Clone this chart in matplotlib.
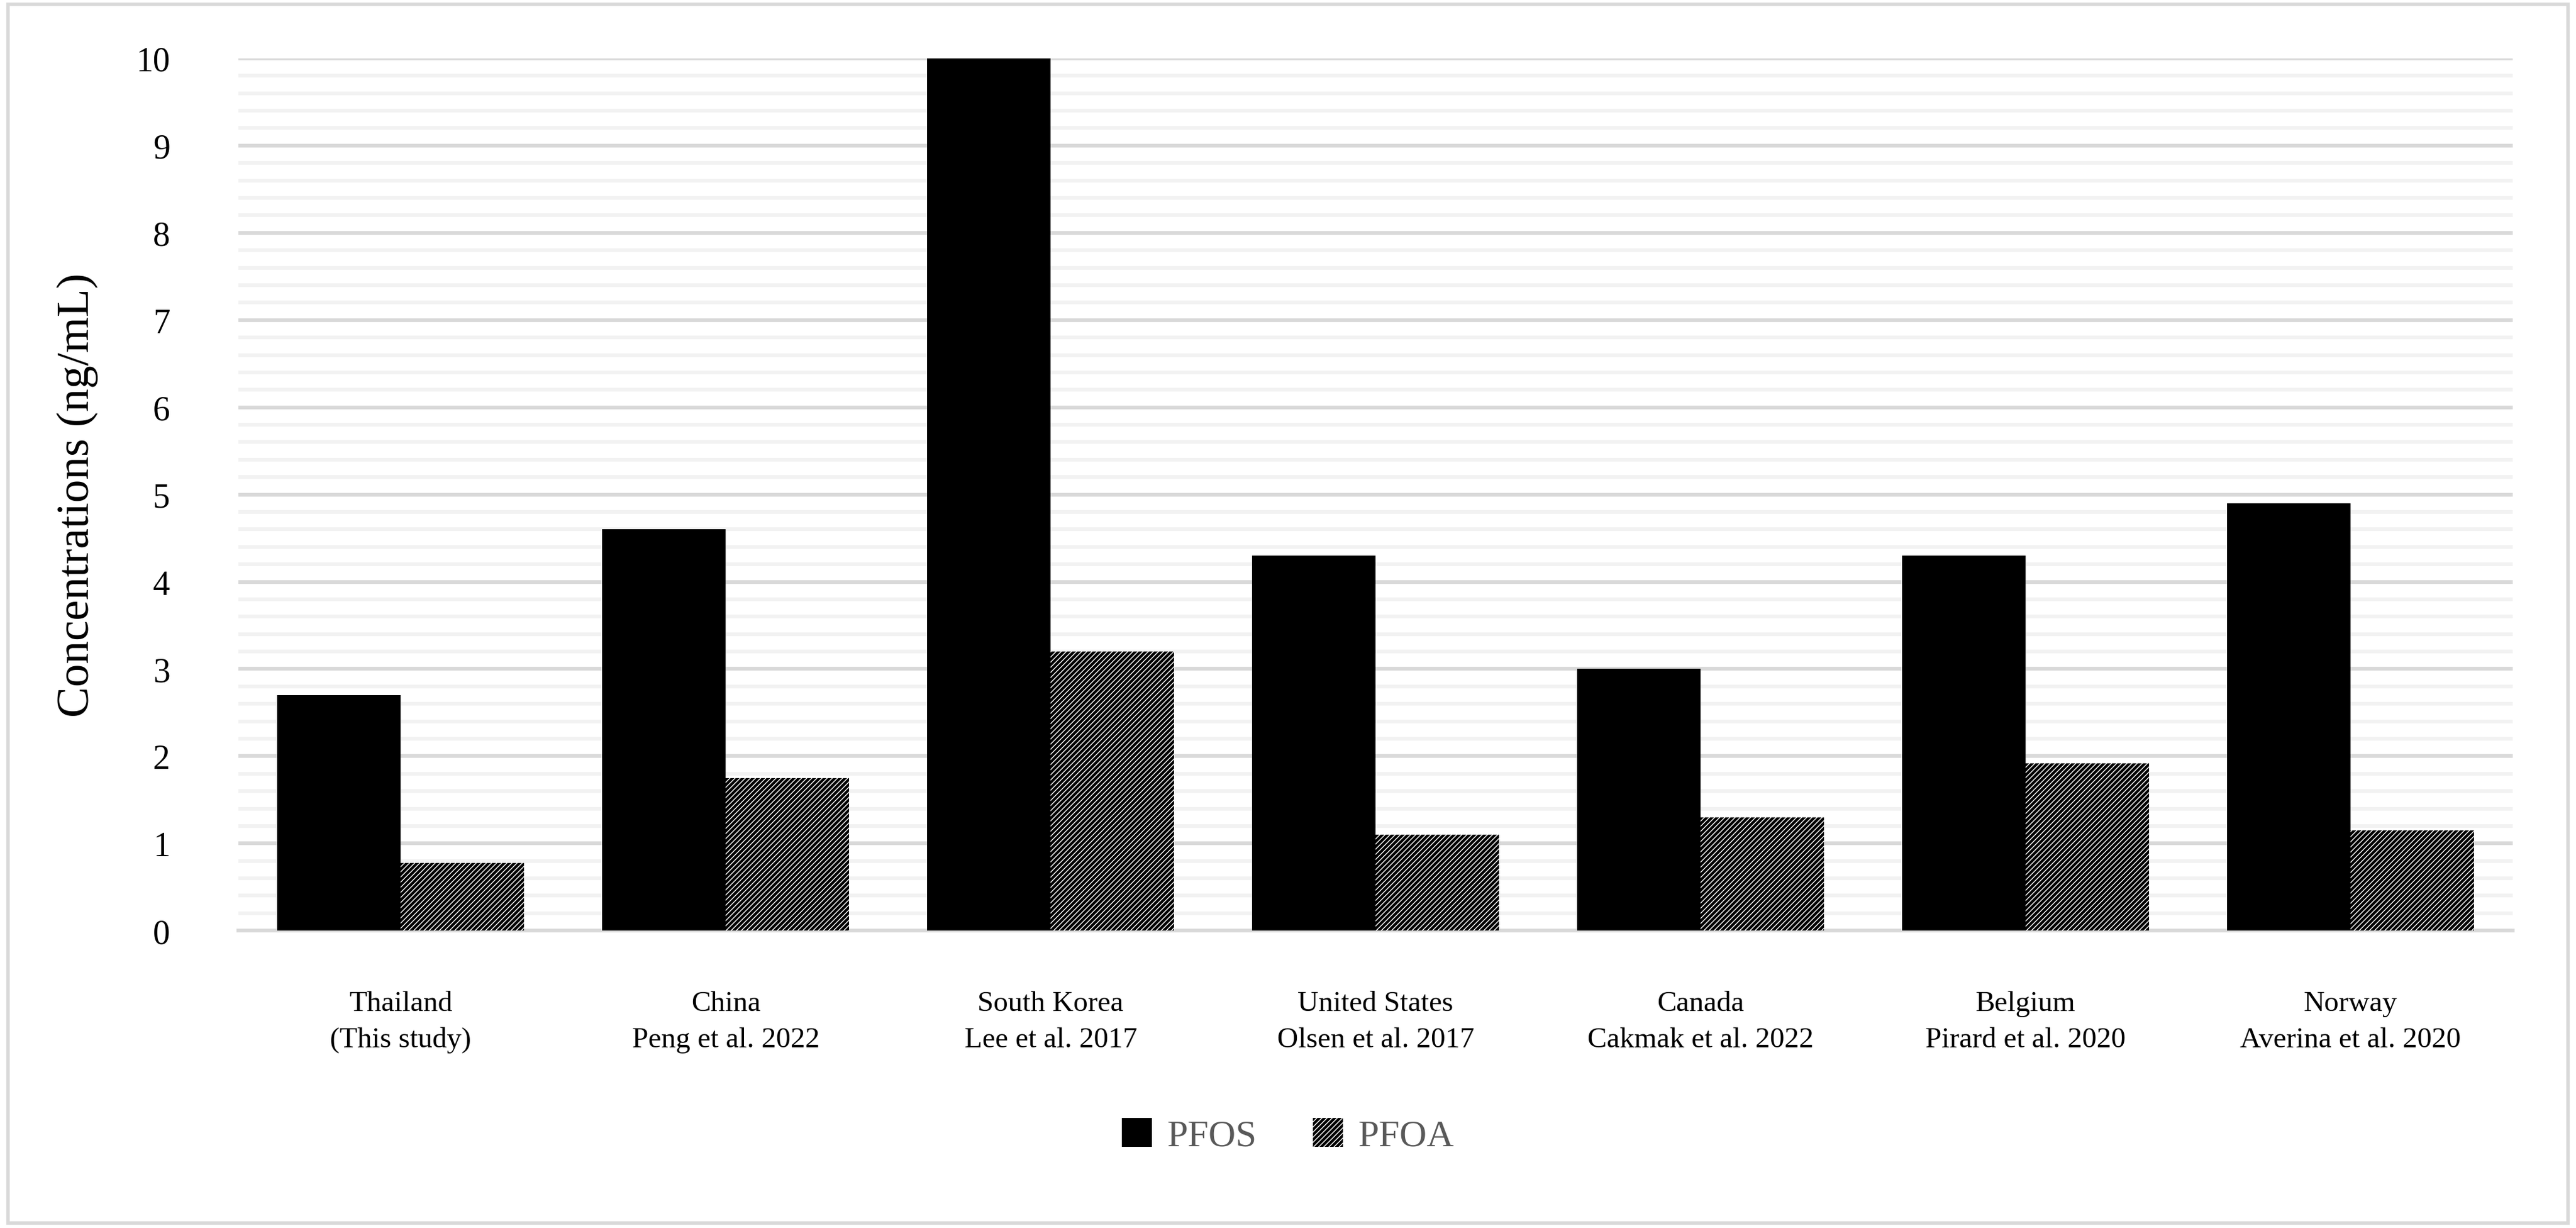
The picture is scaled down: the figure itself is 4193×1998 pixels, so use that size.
import matplotlib
matplotlib.use("Agg")
import matplotlib.pyplot as plt
import numpy as np
from matplotlib.patches import Rectangle

categories = ["Thailand\n(This study)", "China\nPeng et al. 2022", "South Korea\nLee et al. 2017",
              "United States\nOlsen et al. 2017", "Canada\nCakmak et al. 2022",
              "Belgium\nPirard et al. 2020", "Norway\nAverina et al. 2020"]
pfos = [2.7, 4.6, 10.0, 4.3, 3.0, 4.3, 4.9]
pfoa = [0.78, 1.75, 3.2, 1.1, 1.3, 1.92, 1.15]

plt.rcParams['font.family'] = ['Liberation Serif', 'DejaVu Serif']
plt.rcParams['hatch.linewidth'] = 1.6

fig = plt.figure(figsize=(20.965, 9.995), dpi=200)
fig.patches.append(Rectangle((0.003, 0.004), 0.994, 0.992, transform=fig.transFigure,
                             fill=False, edgecolor='#d9d9d9', linewidth=2))
ax = fig.add_axes([0.0925, 0.242, 0.883, 0.710])
x = np.arange(len(categories))
w = 0.38
ax.bar(x - w/2, pfos, w, color='black', label='PFOS', zorder=3)
ax.bar(x + w/2, pfoa, w, color='white', edgecolor='black', hatch='////////', linewidth=0, label='PFOA', zorder=3)

ax.set_ylim(0, 10)
ax.set_xlim(-0.5, len(categories) - 0.5)
ax.set_yticks(np.arange(0, 11, 1))
ax.set_yticks(np.arange(0, 10.01, 0.2), minor=True)
ax.yaxis.grid(True, which='major', color='#d9d9d9', linewidth=2.2, zorder=0)
ax.yaxis.grid(True, which='minor', color='#f2f2f2', linewidth=2.2, zorder=0)
ax.tick_params(axis='y', which='both', length=0, labelsize=20, pad=40)
ax.tick_params(axis='x', length=0, labelsize=17, pad=35)
ax.set_xticks(x)
ax.set_xticklabels(categories, linespacing=1.5)
for s in ['top', 'right', 'left']:
    ax.spines[s].set_visible(False)
ax.spines['bottom'].set_color('#d9d9d9')
ax.spines['bottom'].set_linewidth(2.2)
ax.set_ylabel('Concentrations (ng/mL)', fontsize=27, labelpad=22)

leg = fig.legend(loc='center', bbox_to_anchor=(0.5, 0.075), ncol=2, frameon=False,
                 fontsize=22, handlelength=0.8, handleheight=0.8, columnspacing=1.5, handletextpad=0.4)
for t in leg.get_texts():
    t.set_color('#595959')

fig.savefig('out.png', dpi=200)
